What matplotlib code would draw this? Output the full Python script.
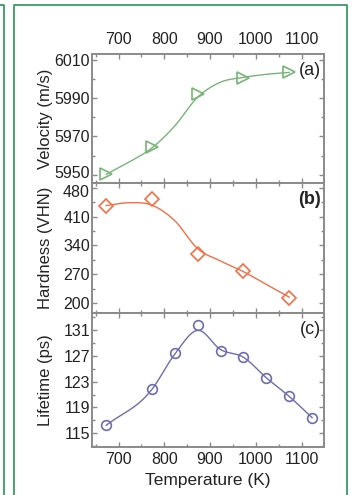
import numpy as np
import matplotlib
matplotlib.use('Agg')
import matplotlib.pyplot as plt
from matplotlib.lines import Line2D
from matplotlib.ticker import MultipleLocator
from matplotlib.transforms import ScaledTranslation

plt.rcParams['font.family'] = ['Liberation Sans', 'DejaVu Sans']

# donnees
temp_a = [673, 773, 873, 973, 1073]
velocity = [5950.5, 5964.5, 5992, 6000.5, 6003.5]
temp_b = [673, 773, 873, 973, 1073]
hardness = [435, 453, 318, 277, 211]
temp_c = [673, 773, 823, 873, 923, 973, 1023, 1073, 1123]
lifetime = [116.2, 121.8, 127.5, 131.8, 127.8, 126.8, 123.6, 120.7, 117.4]

# courbes d'ajustement
fit_temp = [673, 723, 773, 823, 873, 923, 973, 1023, 1073]
fit_velocity = [5950.2, 5956.6, 5964, 5975.5, 5990.5, 5998.3, 6000.8, 6002.4, 6003.4]
fit_hardness = [437, 444, 438, 400, 332, 302, 276, 245, 214]
fit_lifetime = [116.2, 121.8, 127.3, 131.0, 128.0, 126.8, 123.6, 120.7, 117.4]

green = '#78b478'
orange = '#f07048'
purple = '#6c6cb0'
frame = '#3a9a62'
spine = '#8a8a8a'
txt = '#222222'


def hermite(x, y, n=30):
    # courbe lisse passant par les points (tangentes par differences centrees)
    x = np.asarray(x, float)
    y = np.asarray(y, float)
    m = np.gradient(y, x)
    xs, ys = [], []
    for i in range(len(x) - 1):
        h = x[i+1] - x[i]
        t = np.linspace(0, 1, n)
        h00 = 2*t**3 - 3*t**2 + 1
        h10 = t**3 - 2*t**2 + t
        h01 = -2*t**3 + 3*t**2
        h11 = t**3 - t**2
        xs.append(x[i] + t*h)
        ys.append(h00*y[i] + h10*h*m[i] + h01*y[i+1] + h11*h*m[i+1])
    return np.concatenate(xs), np.concatenate(ys)


fig = plt.figure(figsize=(3.54, 4.95), dpi=100)
fig.patch.set_facecolor('white')

W, H = 354.0, 495.0
# cadres verts
fig.add_artist(Line2D([14/W, 14/W, 347/W, 347/W], [0, 1-5/H, 1-5/H, 0],
                      transform=fig.transFigure, color=frame, lw=1.3))
fig.add_artist(Line2D([0, 3.5/W, 3.5/W], [1-5/H, 1-5/H, 0],
                      transform=fig.transFigure, color=frame, lw=1.3))

left, width = 92/W, 232/W
ax_a = fig.add_axes([left, 1-183/H, width, 129/H])
ax_b = fig.add_axes([left, 1-313/H, width, 130/H])
ax_c = fig.add_axes([left, 1-446.5/H, width, 133.5/H])

# (a)
xx, yy = hermite(fit_temp, fit_velocity)
ax_a.plot(xx, yy, color=green, lw=1)
ax_a.plot(temp_a, velocity, linestyle='none', marker='>', ms=8, mfc='none',
          mec=green, mew=1.2)
ax_a.set_ylim(5945.7, 6013)
ax_a.yaxis.set_major_locator(MultipleLocator(20, offset=10))
ax_a.yaxis.set_minor_locator(MultipleLocator(10))
ax_a.set_ylabel('Velocity (m/s)')

# (b)
xx, yy = hermite(fit_temp, fit_hardness)
ax_b.plot(xx, yy, color=orange, lw=1)
ax_b.plot(temp_b, hardness, linestyle='none', marker='D', ms=7.5, mfc='none',
          mec=orange, mew=1.2)
ax_b.set_ylim(175.4, 492)
ax_b.yaxis.set_major_locator(MultipleLocator(70, offset=60))
ax_b.yaxis.set_minor_locator(MultipleLocator(35, offset=25))
ax_b.set_ylabel('Hardness (VHN)')

# (c)
xx, yy = hermite(temp_c, fit_lifetime)
ax_c.plot(xx, yy, color=purple, lw=1)
ax_c.plot(temp_c, lifetime, linestyle='none', marker='o', ms=7, mfc='none',
          mec=purple, mew=1.2)
ax_c.set_ylim(112.9, 133.7)
ax_c.yaxis.set_major_locator(MultipleLocator(4, offset=3))
ax_c.yaxis.set_minor_locator(MultipleLocator(2, offset=1))
ax_c.set_ylabel('Lifetime (ps)')
ax_c.set_xlabel('Temperature (K)', fontsize=12.5, color=txt, labelpad=4)

for ax, lab in zip([ax_a, ax_b, ax_c], ['(a)', '(b)', '(c)']):
    ax.set_xlim(642, 1149)
    ax.xaxis.set_major_locator(MultipleLocator(100))
    ax.xaxis.set_minor_locator(MultipleLocator(50))
    for s in ax.spines.values():
        s.set_color(spine)
        s.set_linewidth(1.4)
    ax.tick_params(which='both', direction='in', top=True, right=True,
                   color=spine, labelcolor=txt, labelsize=11.5, pad=1.5)
    ax.tick_params(which='major', length=3.5, width=1)
    ax.tick_params(which='minor', length=2.5, width=1)
    ax.tick_params(axis='x', labelbottom=False)
    ax.yaxis.label.set_size(12)
    ax.yaxis.label.set_color(txt)
    ax.yaxis.set_label_coords(-0.17, 0.5)
    ax.text(0.985, 0.94, lab, transform=ax.transAxes, ha='right', va='top',
            fontsize=13, color=txt, fontweight='bold' if lab == '(b)' else 'normal')

ax_a.tick_params(axis='x', labeltop=True, pad=5)
ax_c.tick_params(axis='x', labelbottom=True, pad=4)

# petit decalage des etiquettes 5950 / 480 qui se touchent
fig.canvas.draw()
for ax, val, dy in [(ax_a, 5950, 2.0), (ax_b, 480, -2.0)]:
    for tick in ax.yaxis.get_major_ticks():
        if abs(tick.get_loc() - val) < 1e-6:
            lbl = tick.label1
            lbl.set_transform(lbl.get_transform()
                              + ScaledTranslation(0, dy/72, fig.dpi_scale_trans))

plt.savefig('out.png', dpi=100)
